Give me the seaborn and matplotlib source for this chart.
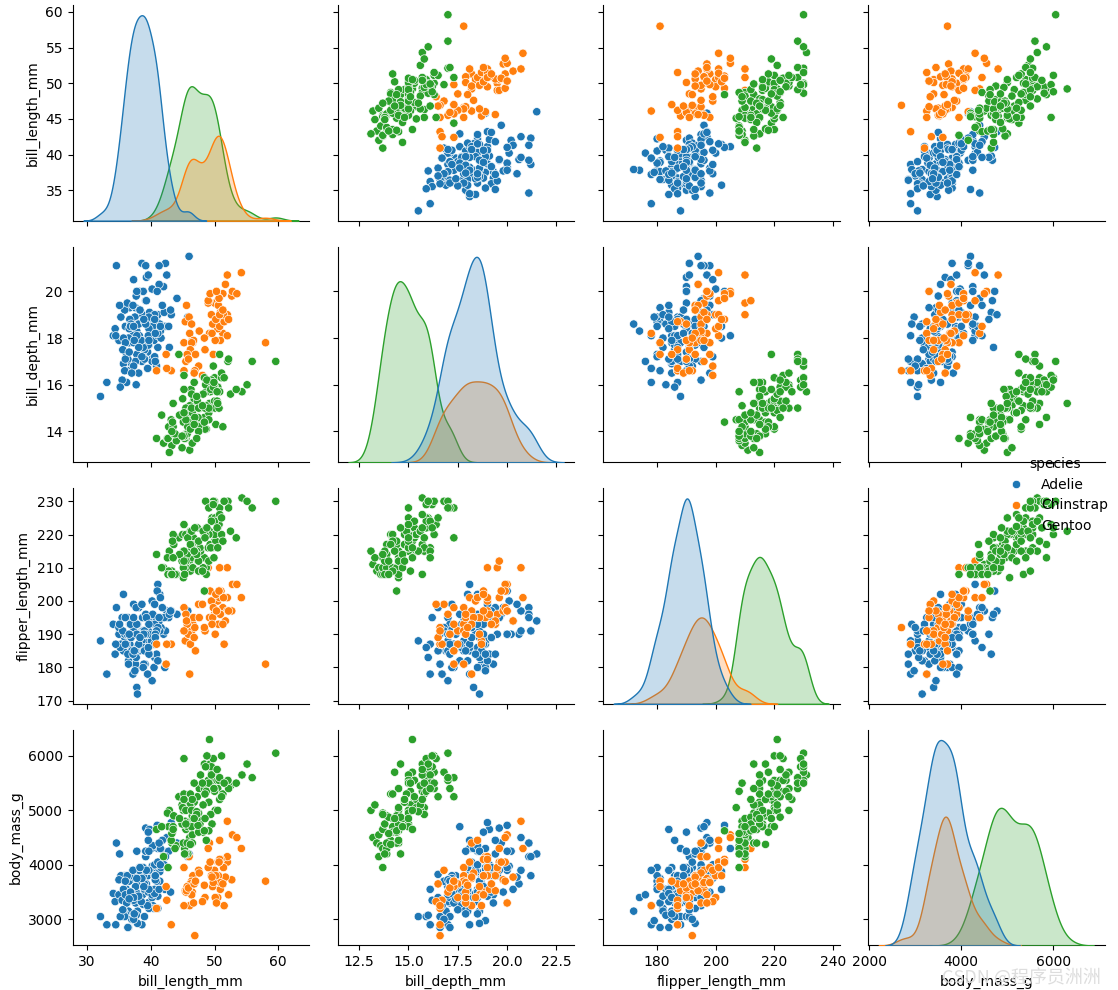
import matplotlib
matplotlib.use("Agg")
from matplotlib import pyplot as plt
import pandas as pd
import seaborn as sns

# (bill_length, bill_depth, flipper_length, body_mass) per species
adelie = [
    (39.1,18.7,181,3750),(39.5,17.4,186,3800),(40.3,18.0,195,3250),(36.7,19.3,193,3450),
    (39.3,20.6,190,3650),(38.9,17.8,181,3625),(39.2,19.6,195,4675),(34.1,18.1,193,3475),
    (42.0,20.2,190,4250),(37.8,17.1,186,3300),(37.8,17.3,180,3700),(41.1,17.6,182,3200),
    (38.6,21.2,191,3800),(34.6,21.1,198,4400),(36.6,17.8,185,3700),(38.7,19.0,195,3450),
    (42.5,20.7,197,4500),(34.4,18.4,184,3325),(46.0,21.5,194,4200),(37.8,18.3,174,3400),
    (37.7,18.7,180,3600),(35.9,19.2,189,3800),(38.2,18.1,185,3950),(38.8,17.2,180,3800),
    (35.3,18.9,187,3800),(40.6,18.6,183,3550),(40.5,17.9,187,3200),(37.9,18.6,172,3150),
    (40.5,18.9,180,3950),(39.5,16.7,178,3250),(37.2,18.1,178,3900),(39.5,17.8,188,3300),
    (40.9,18.9,184,3900),(36.4,17.0,195,3325),(39.2,21.1,196,4150),(38.8,20.0,190,3950),
    (42.2,18.5,180,3550),(37.6,19.3,181,3300),(39.8,19.1,184,4650),(36.5,18.0,182,3150),
    (40.8,18.4,195,3900),(36.0,18.5,186,3100),(44.1,19.7,196,4400),(37.0,16.9,185,3000),
    (39.6,18.8,190,4600),(41.1,19.0,182,3425),(36.2,16.1,187,3550),(32.1,15.5,188,3050),
    (35.7,16.9,185,3150),(41.1,18.1,205,4300),(43.2,19.0,197,4775),(35.0,17.9,190,3450),
    (40.7,17.0,190,3725),(38.1,16.5,198,3825),(39.7,17.7,193,3200),(38.6,17.0,188,2900),
    (37.3,20.5,199,3775),(42.8,18.5,195,4250),(33.1,16.1,178,2900),(45.8,18.9,197,4150),
    (35.5,16.2,195,3350),(41.5,18.3,195,4300),(40.2,17.1,193,3400),(39.0,17.5,186,3550),
    (37.5,18.9,179,2975),(38.5,17.9,190,3325),(36.9,18.6,189,3500),(41.4,18.5,202,3875),
    (39.6,17.7,186,3500),(40.1,18.9,188,4300),(35.0,17.9,192,3725),(42.3,21.2,191,4150),
    (39.2,18.6,190,4250),(38.8,17.6,191,3275),(40.2,20.1,200,3975),(36.5,16.6,181,2850),
    (41.6,18.0,192,3950),(35.9,16.6,190,3050),(37.6,17.0,185,3600),(38.2,20.0,190,3900),
    (36.7,18.8,187,3800),(37.3,17.8,191,3350),(39.6,20.7,191,3900),(37.9,18.6,193,2925),
    (40.2,17.0,176,3450),(39.5,16.7,178,3250),(36.8,18.5,193,3500),(38.1,18.6,190,3700),
    (40.6,17.2,187,3475),(35.7,18.0,202,3550),(39.0,18.7,185,3650),(41.3,20.3,194,3550),
    (36.3,19.5,190,3800),(38.5,17.9,190,3325),(40.6,19.0,199,4000),(37.7,19.8,198,3500),
    (41.4,18.6,191,3700),(37.6,17.0,185,3600),(39.7,18.9,184,3550),(38.3,19.2,189,3950),
    (36.2,17.3,187,3300),(40.3,18.5,196,4350),(42.1,19.1,195,4000),(35.2,15.9,186,3050),
    (40.6,18.8,193,3800),(38.8,20.0,190,3950),(37.7,16.0,183,3075),(41.8,19.4,198,4450),
    (39.0,17.1,191,3050),(37.3,16.8,192,3000),(39.7,18.4,190,3900),(36.6,18.4,184,3475),
    (36.9,18.6,189,3500),(41.1,18.2,192,4050),(38.1,17.6,187,3425),(39.3,19.6,195,3900),
    (40.9,16.8,191,3700),(37.0,16.5,185,3400),(38.6,17.2,199,3750),(40.7,17.0,190,3725),
    (36.4,17.1,184,2850),(41.3,21.1,195,4400),(36.0,17.8,195,3450),(37.8,20.0,190,4250),
    (41.0,20.0,203,4725),(35.6,17.5,191,3175),(39.6,18.1,186,4450),(36.8,18.5,193,3500),
    (35.1,19.4,193,4200),(41.5,18.5,201,4000),(39.2,18.6,190,4250),(37.2,19.4,184,3900),
    (38.9,18.8,190,3600),(36.0,17.1,187,3700),(42.9,17.6,196,4700),(37.8,18.1,193,3750),
    (39.7,17.9,193,4250),(34.5,18.1,187,2900),(40.7,18.2,189,3800),(38.3,19.2,189,3950),
    (37.4,17.9,185,3100),(43.1,19.2,197,3500),(37.3,18.5,195,3400),(36.6,17.4,190,3375),
]
chinstrap = [
    (46.5,17.9,192,3500),(50.0,19.5,196,3900),(51.3,19.2,193,3650),(45.4,18.7,188,3525),
    (52.7,19.8,197,3725),(45.2,17.8,198,3950),(46.1,18.2,178,3250),(51.3,18.2,197,3750),
    (46.0,18.9,195,4150),(51.3,19.9,198,3700),(46.6,17.8,193,3800),(51.7,20.3,194,3775),
    (47.0,17.3,185,3700),(52.0,18.1,201,4050),(45.9,17.1,190,3575),(50.5,19.6,201,4050),
    (50.3,20.0,197,3300),(58.0,17.8,181,3700),(46.4,18.6,190,3450),(49.2,18.2,195,4400),
    (42.4,17.3,181,3600),(48.5,17.5,191,3400),(43.2,16.6,187,2900),(50.6,19.4,193,3800),
    (46.7,17.9,195,3300),(52.0,19.0,197,4150),(50.5,18.4,200,3400),(49.5,19.0,200,3800),
    (46.4,17.8,191,3700),(52.8,20.0,205,4550),(40.9,16.6,187,3200),(54.2,20.8,201,4300),
    (42.5,16.7,187,3350),(51.0,18.8,203,4100),(49.7,18.6,195,3600),(47.5,16.8,199,3900),
    (47.6,18.3,195,3850),(52.0,20.7,210,4800),(46.9,16.6,192,2700),(53.5,19.9,205,4500),
    (49.0,19.5,210,3950),(46.2,17.5,187,3650),(50.9,19.1,196,3550),(45.5,17.0,196,3500),
    (50.9,17.9,196,3675),(50.8,18.5,201,4450),(50.1,17.9,190,3400),(49.0,19.6,212,4300),
    (51.5,18.7,187,3250),(49.8,17.3,198,3675),(48.1,16.4,199,3325),(51.4,19.0,201,3950),
    (45.7,17.3,193,3600),(50.7,19.7,203,4050),(52.2,18.8,197,3450),(45.6,19.4,194,3525),
    (49.3,19.9,203,4050),(50.2,18.8,202,3800),(45.9,17.1,190,3575),(50.8,19.0,210,4100),
    (46.8,16.5,189,3650),(50.7,19.7,203,4050),(45.2,16.6,191,3250),(49.6,18.2,193,3775),
    (50.3,20.0,197,3300),(48.4,18.0,192,3625),(51.3,19.2,193,3650),(47.0,17.3,185,3700),
]
gentoo = [
    (46.1,13.2,211,4500),(50.0,16.3,230,5700),(48.7,14.1,210,4450),(50.0,15.2,218,5700),
    (47.6,14.5,215,5400),(46.5,13.5,210,4550),(45.4,14.6,211,4800),(46.7,15.3,219,5200),
    (43.3,13.4,209,4400),(46.8,15.4,215,5150),(40.9,13.7,214,4650),(49.0,16.1,216,5550),
    (45.5,13.7,214,4650),(48.4,14.6,213,5850),(45.8,14.6,210,4200),(49.3,15.7,217,5850),
    (42.0,13.5,210,4150),(49.2,15.2,221,6300),(46.2,14.5,209,4800),(48.7,15.1,222,5350),
    (50.2,14.3,218,5700),(45.1,14.5,215,5000),(46.5,14.5,213,4400),(46.3,15.8,215,5050),
    (42.9,13.1,215,5000),(46.1,15.1,215,5100),(47.8,15.0,215,5650),(48.2,14.3,210,4600),
    (50.0,15.3,220,5550),(47.3,15.3,222,5250),(42.8,14.2,209,4700),(45.1,14.5,207,5050),
    (59.6,17.0,230,6050),(49.1,14.8,220,5150),(48.4,16.3,220,5400),(42.6,13.7,213,4950),
    (44.4,17.3,219,5250),(44.0,13.6,208,4350),(48.7,15.7,208,5350),(42.7,13.7,208,3950),
    (49.6,16.0,225,5700),(45.3,13.7,210,4300),(49.6,15.0,216,4750),(50.5,15.9,222,5550),
    (43.6,13.9,217,4900),(45.5,13.9,210,4200),(50.5,15.9,225,5400),(44.9,13.3,213,5100),
    (45.2,15.8,215,5300),(46.6,14.2,210,4850),(48.5,14.1,220,5300),(45.1,14.4,210,4400),
    (50.1,15.0,225,5000),(46.5,14.4,217,4900),(45.0,15.4,220,5050),(43.8,13.9,208,4300),
    (45.5,15.0,220,5000),(43.2,14.5,208,4450),(50.4,15.3,224,5550),(45.3,13.8,208,4200),
    (46.2,14.9,221,5300),(45.7,13.9,214,4400),(54.3,15.7,231,5650),(45.8,14.2,219,4700),
    (49.8,16.8,230,5700),(49.5,16.2,229,5800),(43.5,14.2,220,4700),(50.7,15.0,223,5550),
    (47.7,15.0,216,4750),(46.4,15.6,221,5000),(48.2,15.6,221,5100),(46.5,14.8,217,5200),
    (46.4,15.0,216,4700),(48.6,16.0,230,5800),(47.5,14.2,209,4600),(51.1,16.3,220,6000),
    (45.2,13.8,215,4750),(45.2,16.4,223,5950),(49.1,14.5,212,4625),(52.5,15.6,221,5450),
    (47.4,14.6,212,4725),(50.0,15.9,224,5350),(44.9,13.8,212,4750),(50.8,17.3,228,5600),
    (43.4,14.4,218,4600),(51.3,14.2,218,5300),(47.5,14.0,212,4875),(52.1,17.0,230,5550),
    (47.5,15.0,218,4950),(52.2,17.1,228,5400),(45.5,14.5,212,4750),(49.5,16.1,224,5650),
    (44.5,14.7,214,4850),(50.8,15.7,226,5200),(49.4,15.8,216,4925),(46.9,14.6,222,4875),
    (48.4,14.4,203,4625),(51.1,16.5,225,5250),(48.5,15.0,219,4850),(55.9,17.0,228,5600),
    (47.2,15.5,215,4975),(49.1,15.0,228,5500),(46.8,16.1,215,5500),(41.7,14.7,210,4700),
    (53.4,15.8,219,5500),(43.3,14.0,208,4575),(48.1,15.1,209,5500),(50.5,15.2,216,5000),
    (49.8,15.9,229,5950),(43.5,15.2,213,4650),(51.5,16.3,230,5500),(46.2,14.1,217,4375),
    (55.1,16.0,230,5850),(48.8,16.2,222,6000),(47.2,13.7,214,4925),(46.8,14.3,215,4850),
    (50.4,15.7,222,5750),(45.2,14.8,212,5200),(49.9,16.1,213,5400),
]
cols = ["bill_length_mm", "bill_depth_mm", "flipper_length_mm", "body_mass_g"]

frames = []
for name, rows in [("Adelie", adelie), ("Chinstrap", chinstrap), ("Gentoo", gentoo)]:
    d = pd.DataFrame(rows, columns=cols)
    d["species"] = name
    frames.append(d)
df = pd.concat(frames, ignore_index=True)

g = sns.pairplot(df, hue="species")
g.figure.set_size_inches(11.18, 9.9)
g.figure.subplots_adjust(left=0.065, right=0.988, bottom=0.045, top=0.995, wspace=0.12, hspace=0.12)
sns.move_legend(g, "center left", bbox_to_anchor=(0.885, 0.5), frameon=False)
g.figure.text(0.985, 0.003, "CSDN @程序员洲洲", ha="right", va="bottom", fontsize=13,
              color="#dddddd", family=["Noto Sans CJK SC", "DejaVu Sans"])
g.figure.savefig("out.png", dpi=100)
